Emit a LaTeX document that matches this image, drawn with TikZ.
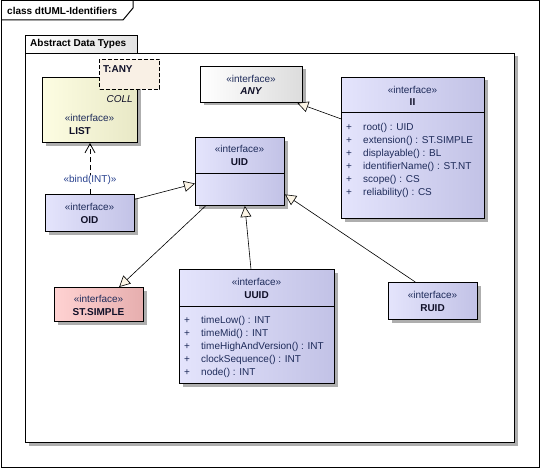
\documentclass[tikz,border=0pt]{standalone}
\usepackage{fontspec}
\setmainfont{Liberation Sans}
\usetikzlibrary{arrows.meta,shadows}
\definecolor{ifaceL}{HTML}{E4E4FC}
\definecolor{ifaceR}{HTML}{C2C2E6}
\definecolor{listL}{HTML}{FDFDE2}
\definecolor{listR}{HTML}{E8E8C6}
\definecolor{stL}{HTML}{FFD2D2}
\definecolor{stR}{HTML}{E6AEAE}
\definecolor{anyR}{HTML}{DCDCDC}
\definecolor{pkgR}{HTML}{E2E2E2}
\definecolor{tany}{HTML}{F9F0E5}
\definecolor{tri}{HTML}{FCF5E6}
\definecolor{txt}{HTML}{1E2B5A}
\definecolor{nametxt}{HTML}{101028}
\definecolor{bindtxt}{HTML}{27408E}

\begin{document}
\begin{tikzpicture}[x=1pt,y=-1pt,
  every node/.style={font=\fontsize{10}{12}\selectfont,inner sep=0pt},
  classbox/.style={draw,line width=1pt,anchor=north west,
    drop shadow={shadow xshift=3pt,shadow yshift=-3pt,fill=black!45,opacity=0.7}},
  iface/.style={classbox,left color=ifaceL,right color=ifaceR},
  stereo/.style={text=txt},
  cname/.style={font=\fontsize{10}{12}\selectfont\bfseries,text=nametxt},
  attr/.style={anchor=west,text=txt},
  gen/.style={line width=0.6pt,-{Triangle[length=11pt,width=11pt,fill=tri]}},
  bind/.style={line width=0.8pt,dash pattern=on 5pt off 3pt,-{Straight Barb[length=9pt,width=10pt]}}]
\useasboundingbox (0,0) rectangle (540,468);

% diagram frame
\draw[line width=1pt] (1,1) rectangle (539,467);
\draw[line width=1pt] (1,20) -- (123,20) -- (133,8) -- (133,1);
\node[cname,text=black,anchor=west] (title) at (7,11) {class dtUML-Identifiers};

% package
\node[classbox,fill=white,minimum width=489pt,minimum height=389pt] (pkg) at (25,53) {};
\node[draw,line width=1pt,anchor=north west,left color=white,right color=pkgR,
  minimum width=112pt,minimum height=18pt] (pkgtab) at (25,35) {};
\node[cname,text=black,anchor=west] (pkgname) at (30,44) {Abstract Data Types};

% classes
\node[classbox,left color=listL,right color=listR,minimum width=95pt,minimum height=65pt] (list) at (42,77) {};
\node[draw,line width=1pt,dash pattern=on 4pt off 2pt,fill=tany,anchor=north west,
  minimum width=60pt,minimum height=30pt] (tparam) at (99,59) {};
\node[cname,anchor=west] (tparam-l) at (103,69) {T:ANY};
\node[font=\fontsize{10}{12}\selectfont\itshape,text=nametxt,anchor=east] (coll) at (133,99) {COLL};
\node[stereo] (list-st) at (89.5,118) {«interface»};
\node[cname] (list-n) at (80,131) {LIST};

\node[classbox,left color=white,right color=anyR,minimum width=102pt,minimum height=36pt] (any) at (200,66) {};
\node[stereo] (any-st) at (251,79) {«interface»};
\node[font=\fontsize{10}{12}\selectfont\bfseries\itshape,text=nametxt] (any-n) at (251,91) {ANY};

\node[iface,minimum width=143pt,minimum height=141pt] (ii) at (341,77) {};
\draw[line width=1pt] (341,113) -- (484,113);
\node[stereo] (ii-st) at (412.5,90) {«interface»};
\node[cname] (ii-n) at (412.5,102) {II};
\foreach [count=\i] \t in {root() : UID,extension() : ST.SIMPLE,displayable() : BL,
  identifierName() : ST.NT,scope() : CS,reliability() : CS}{
  \node[attr] (ii-p\i) at (346,{115+13*\i}) {+};
  \node[attr] (ii-a\i) at (363,{115+13*\i}) {\t};
}

\node[iface,minimum width=89pt,minimum height=68pt] (uid) at (195,137) {};
\draw[line width=1pt] (195,173) -- (284,173);
\node[stereo] (uid-st) at (239.5,149) {«interface»};
\node[cname] (uid-n) at (239.5,162) {UID};

\node[iface,minimum width=89pt,minimum height=37pt] (oid) at (45,194) {};
\node[stereo] (oid-st) at (89.5,207) {«interface»};
\node[cname] (oid-n) at (89.5,220) {OID};

\node[classbox,left color=stL,right color=stR,minimum width=89pt,minimum height=34pt] (st) at (54,287) {};
\node[stereo] (st-st) at (98.5,299) {«interface»};
\node[cname] (st-n) at (98.5,312) {ST.SIMPLE};

\node[iface,minimum width=155pt,minimum height=114pt] (uuid) at (179,269) {};
\draw[line width=1pt] (179,306) -- (334,306);
\node[stereo] (uuid-st) at (256.5,282) {«interface»};
\node[cname] (uuid-n) at (256.5,295) {UUID};
\foreach [count=\i] \t in {timeLow() : INT,timeMid() : INT,timeHighAndVersion() : INT,
  clockSequence() : INT,node() : INT}{
  \node[attr] (uuid-p\i) at (184,{308+13*\i}) {+};
  \node[attr] (uuid-a\i) at (201,{308+13*\i}) {\t};
}

\node[iface,minimum width=89pt,minimum height=37pt] (ruid) at (388,282) {};
\node[stereo] (ruid-st) at (432.5,295) {«interface»};
\node[cname] (ruid-n) at (432.5,308) {RUID};

% relations
\draw[bind] (oid.north) -- (list.south)
  node[pos=0.27,fill=white,inner sep=1pt,text=bindtxt] (bindlbl) {«bind(INT)»};
\foreach \from/\to in {oid.17/uid.195,uid.225/st.41,uuid.96/uid.278,ruid.133/uid.333,ii.158/any.338}
  \draw[gen] (\from) -- (\to);

\end{tikzpicture}
\end{document}
